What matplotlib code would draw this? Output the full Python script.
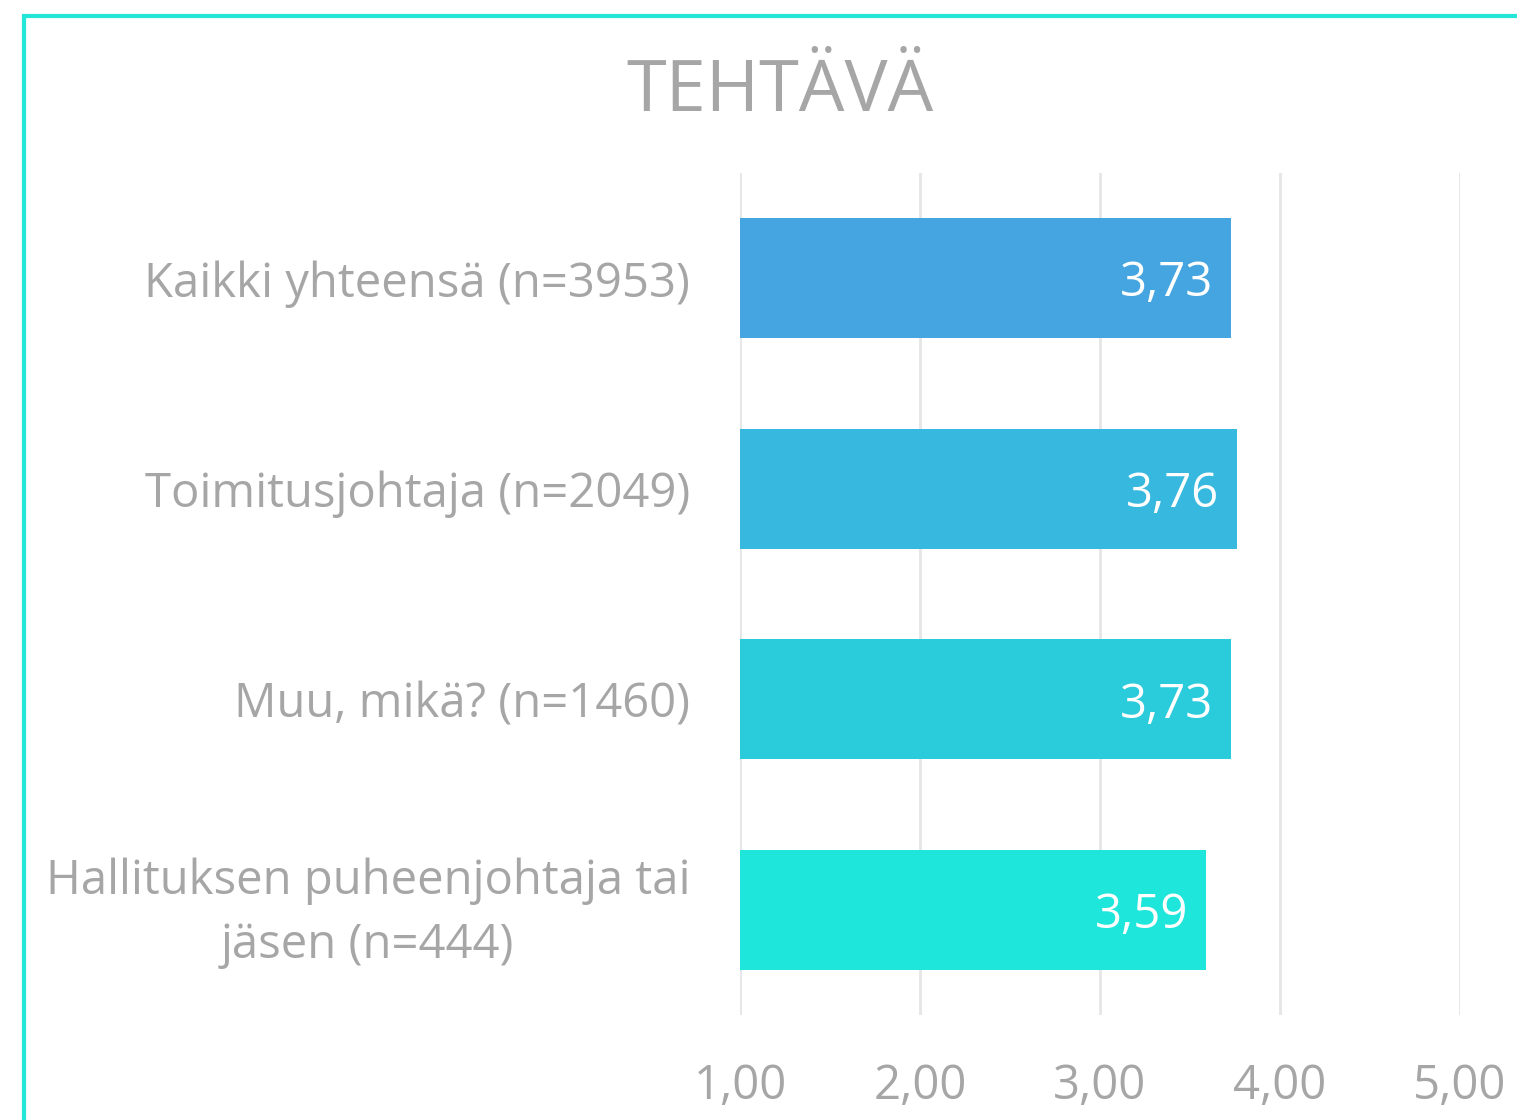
import matplotlib.pyplot as plt
from matplotlib.patches import Rectangle
from matplotlib.transforms import ScaledTranslation

# data
categories = ["Kaikki yhteensä (n=3953)",
              "Toimitusjohtaja (n=2049)",
              "Muu, mikä? (n=1460)",
              "Hallituksen puheenjohtaja tai\njäsen (n=444)"]
values = [3.73, 3.76, 3.73, 3.59]
colors = ["#45A5E0", "#36B8DF", "#2ACCDC", "#1FE6DA"]
xticks = [1, 2, 3, 4, 5]

plt.rcParams['font.family'] = ['Open Sans', 'DejaVu Sans']
grey = "#A6A6A6"

fig = plt.figure(figsize=(15.17, 11.2), dpi=100)
ax = fig.add_axes([740/1517, 1 - 1015/1120, 720/1517, 842/1120])

ypos = list(range(len(categories)))
ax.barh(ypos, [v - 1 for v in values], left=1, height=0.57, color=colors, zorder=2)

for y, v in zip(ypos, values):
    ax.text(v - 0.1, y, f"{v:.2f}".replace(".", ","), ha='right', va='center_baseline',
            color='white', fontsize=34, zorder=3)

ax.set_xlim(1, 5)
ax.set_ylim(3.5, -0.5)
ax.set_xticks(xticks)
ax.set_xticklabels([f"{t:.2f}".replace(".", ",") for t in xticks], fontsize=34, color=grey)
ax.set_yticks(ypos)
ax.set_yticklabels(categories, fontsize=34, color=grey, ha='right',
                   multialignment='center', linespacing=1.45)
ax.tick_params(axis='y', length=0, pad=36)
ax.tick_params(axis='x', length=0, pad=34)
ax.grid(axis='x', color='#E6E6E6', linewidth=2, zorder=0)
for s in ax.spines.values():
    s.set_visible(False)

# two-line label sits a little higher in the original
lab = ax.get_yticklabels()[-1]
lab.set_transform(lab.get_transform() + ScaledTranslation(0, 0.1, fig.dpi_scale_trans))

fig.text(780/1517, 1 - 92/1120, "TEHTÄVÄ", ha='center', va='center', fontsize=52, color=grey)

# frame around the chart area (only top and left visible)
fig.patches.append(Rectangle((24/1517, -0.1), 1.2, 1 - 16/1120 + 0.1,
                             transform=fig.transFigure, fill=False,
                             edgecolor='#22E6D8', linewidth=3))

fig.savefig("out.png", dpi=100)
